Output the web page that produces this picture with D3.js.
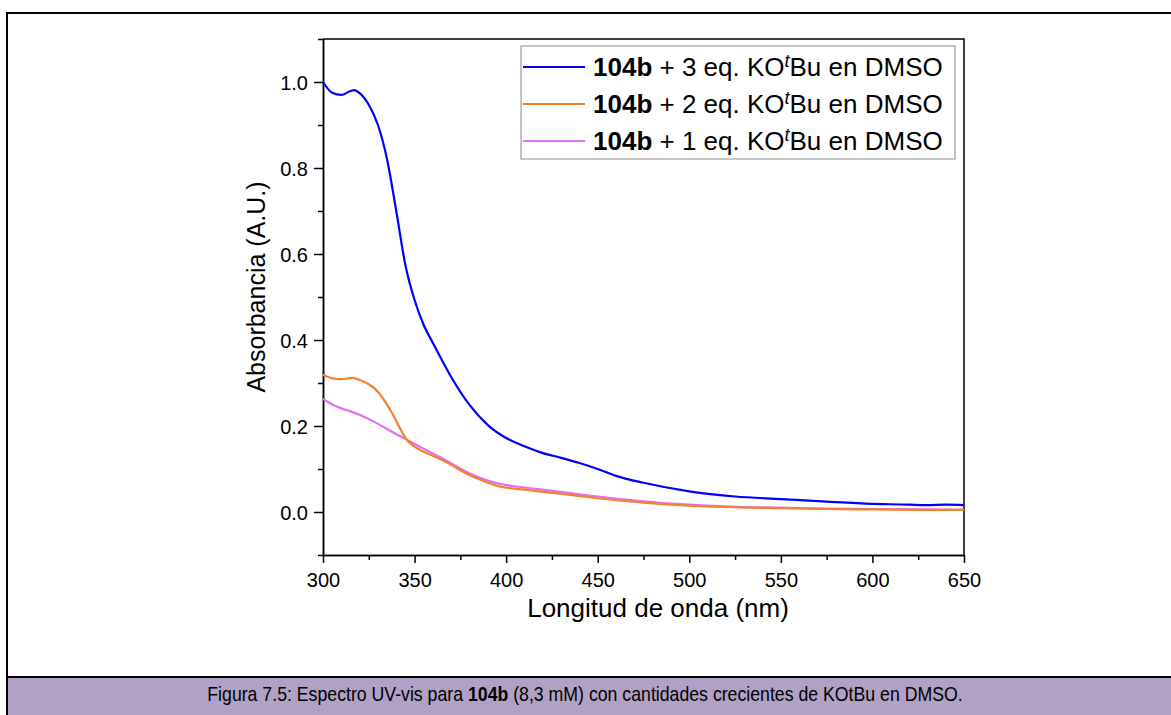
<!DOCTYPE html>
<html>
<head>
<meta charset="utf-8">
<script src="https://cdn.jsdelivr.net/npm/d3@7"></script>
<style>
  html, body { margin: 0; padding: 0; background: #fff; }
  svg { display: block; }
  text { font-family: "Liberation Sans", Arial, sans-serif; fill: #000; }
</style>
</head>
<body>
<svg id="chart" width="1171" height="715"></svg>
<script>
// UV-vis spectra of 104b with increasing amounts of KOtBu in DMSO
const wavelengths3 = [300, 305, 310, 315, 317, 320, 325, 330, 335, 340, 345, 350, 355, 360, 365, 370, 380, 390, 400, 410, 420, 430, 440, 450, 460, 475, 500, 525, 550, 575, 600, 610, 620, 630, 640, 650];
const absorb3eq  = [1.000, 0.975, 0.970, 0.979, 0.981, 0.974, 0.947, 0.900, 0.820, 0.700, 0.574, 0.493, 0.435, 0.393, 0.353, 0.314, 0.249, 0.202, 0.172, 0.153, 0.137, 0.126, 0.114, 0.100, 0.084, 0.068, 0.048, 0.036, 0.030, 0.024, 0.019, 0.018, 0.017, 0.016, 0.017, 0.016];

const wavelengths2 = [300, 305, 310, 316, 320, 325, 328, 331, 334, 338, 342, 345, 350, 355, 360, 365, 370, 375, 380, 385, 390, 397, 410, 420, 435, 450, 475, 500, 525, 550, 575, 600, 625, 650];
const absorb2eq  = [0.319, 0.311, 0.309, 0.312, 0.307, 0.297, 0.288, 0.274, 0.256, 0.228, 0.195, 0.172, 0.152, 0.140, 0.131, 0.121, 0.110, 0.097, 0.086, 0.077, 0.068, 0.059, 0.052, 0.047, 0.040, 0.032, 0.022, 0.015, 0.011, 0.009, 0.007, 0.006, 0.005, 0.005];

const wavelengths1 = [300, 305, 310, 315, 320, 325, 330, 335, 340, 345, 350, 355, 360, 365, 370, 375, 380, 385, 390, 397, 410, 420, 435, 450, 475, 500, 525, 550, 575, 600, 625, 650];
const absorb1eq  = [0.263, 0.250, 0.241, 0.234, 0.226, 0.216, 0.205, 0.193, 0.181, 0.170, 0.158, 0.147, 0.136, 0.125, 0.113, 0.101, 0.090, 0.081, 0.073, 0.065, 0.057, 0.052, 0.044, 0.036, 0.025, 0.017, 0.012, 0.010, 0.008, 0.007, 0.006, 0.005];

const seriesNames = ["3", "2", "1"];
const seriesColors = ["#0000ff", "#f4822d", "#e070f4"];

const xTicksMajor = [300, 350, 400, 450, 500, 550, 600, 650];
const yTicksMajor = [0.0, 0.2, 0.4, 0.6, 0.8, 1.0];

const captionPlain1 = "Figura 7.5: Espectro UV-vis para ";
const captionBold = "104b";
const captionPlain2 = " (8,3 mM) con cantidades crecientes de KOtBu en DMSO.";

const svg = d3.select("#chart");

// page frame and caption band
svg.append("rect").attr("x", 7).attr("y", 677).attr("width", 1164).attr("height", 38).attr("fill", "#b2a1c6");
svg.append("path")
  .attr("d", "M1171,13 H7 V715 M7,677 H1171")
  .attr("fill", "none").attr("stroke", "#000").attr("stroke-width", 2);

// condensed caption line: natural width squeezed horizontally to 756 px
const capG = svg.append("g");
const cap = capG.append("text")
  .attr("x", 0).attr("y", 0)
  .attr("text-anchor", "middle")
  .style("font-size", "20px");
cap.append("tspan").text(captionPlain1);
cap.append("tspan").style("font-weight", "bold").text(captionBold);
cap.append("tspan").text(captionPlain2);
const capW = cap.node().getComputedTextLength() || 850;
capG.attr("transform", `translate(585,701) scale(${756 / capW},1)`);

// plot area
const plotLeft = 323, plotRight = 964, plotTop = 39, plotBottom = 555;
const x = d3.scaleLinear().domain([300, 650]).range([plotLeft, plotRight]);
const y = d3.scaleLinear().domain([-0.1, 1.1]).range([plotBottom, plotTop]);

// frame: top and right edges without ticks
svg.append("path")
  .attr("d", `M${plotLeft},${plotTop} H${plotRight} V${plotBottom}`)
  .attr("fill", "none").attr("stroke", "#000").attr("stroke-width", 1.5);

// x axis
const xMinor = d3.range(300, 651, 25).filter(v => !xTicksMajor.includes(v));
const gx = svg.append("g").attr("transform", `translate(0,${plotBottom})`);
gx.call(d3.axisBottom(x).tickValues(xTicksMajor).tickSize(8).tickSizeOuter(0).tickFormat(d3.format("d")));
gx.append("g").call(d3.axisBottom(x).tickValues(xMinor).tickSize(5).tickSizeOuter(0).tickFormat(""));
gx.selectAll("path.domain").attr("stroke", "#000").attr("stroke-width", 1.5);
gx.selectAll("line").attr("stroke", "#000").attr("stroke-width", 1.5);
gx.selectAll("text").style("font-size", "20px").attr("dy", null).attr("y", 32);

// y axis
const yMinor = [-0.1, 0.1, 0.3, 0.5, 0.7, 0.9, 1.1];
const gy = svg.append("g").attr("transform", `translate(${plotLeft},0)`);
gy.call(d3.axisLeft(y).tickValues(yTicksMajor).tickSize(9).tickSizeOuter(0).tickFormat(d3.format(".1f")));
gy.append("g").call(d3.axisLeft(y).tickValues(yMinor).tickSize(5).tickSizeOuter(0).tickFormat(""));
gy.selectAll("path.domain").attr("stroke", "#000").attr("stroke-width", 1.5);
gy.selectAll("line").attr("stroke", "#000").attr("stroke-width", 1.5);
gy.selectAll("text").style("font-size", "20px").attr("x", -15).attr("dy", "0.36em");

// axis titles
svg.append("text").attr("x", 658).attr("y", 617).attr("text-anchor", "middle")
  .style("font-size", "26px").text("Longitud de onda (nm)");
svg.append("text").attr("transform", `translate(265,287) rotate(-90)`).attr("text-anchor", "middle")
  .style("font-size", "25px").text("Absorbancia (A.U.)");

// spectra
const series = [
  { wl: wavelengths3, a: absorb3eq },
  { wl: wavelengths2, a: absorb2eq },
  { wl: wavelengths1, a: absorb1eq }
];
const line = d3.line().curve(d3.curveMonotoneX).x(d => x(d[0])).y(d => y(d[1]));
const plot = svg.append("g");
// draw 1 eq first, then 2 eq, then 3 eq on top
[2, 1, 0].forEach(i => {
  const pts = series[i].wl.map((w, k) => [w, series[i].a[k]]);
  plot.append("path").datum(pts)
    .attr("d", line).attr("fill", "none")
    .attr("stroke", seriesColors[i]).attr("stroke-width", 2.2)
    .attr("stroke-linejoin", "round");
});

// legend
const lg = svg.append("g");
lg.append("rect").attr("x", 521).attr("y", 46).attr("width", 434).attr("height", 113)
  .attr("fill", "#fff").attr("stroke", "#8a8a8a").attr("stroke-width", 1);
const rowY = [67, 104, 141];
seriesNames.forEach((n, i) => {
  lg.append("line").attr("x1", 523).attr("x2", 585).attr("y1", rowY[i]).attr("y2", rowY[i])
    .attr("stroke", seriesColors[i]).attr("stroke-width", 2.2);
  const t = lg.append("text").attr("x", 593).attr("y", rowY[i] + 8.5).style("font-size", "26px");
  t.append("tspan").style("font-weight", "bold").text("104b");
  t.append("tspan").text(` + ${n} eq. KO`);
  t.append("tspan").style("font-style", "italic").style("font-size", "18px").attr("dy", -9).text("t");
  t.append("tspan").attr("dy", 9).text("Bu en DMSO");
});
</script>
</body>
</html>
